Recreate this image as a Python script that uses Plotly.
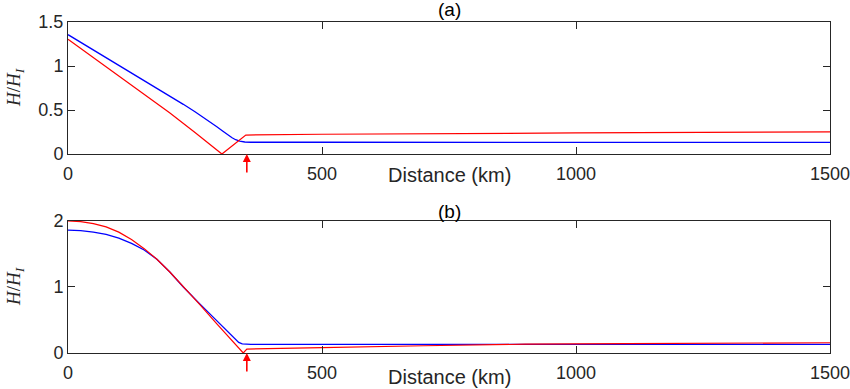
import plotly.graph_objects as go

# ---------------- data ----------------
x_ticks = [0, 500, 1000, 1500]
x_tick_labels = ["0", "500", "1000", "1500"]
ya_ticks = [0, 0.5, 1, 1.5]
ya_tick_labels = ["0", "0.5", "1", "1.5"]
yb_ticks = [0, 1, 2]
yb_tick_labels = ["0", "1", "2"]

# panel (a)
a_blue_x = [0, 50, 100, 150, 200, 227, 250, 275, 293, 305, 315, 323, 330, 338, 348, 360, 500, 1000, 1500]
a_blue_y = [1.356, 1.183, 1.008, 0.835, 0.66, 0.565, 0.48, 0.385, 0.31, 0.26, 0.215, 0.185, 0.163, 0.146, 0.137, 0.134, 0.134, 0.133, 0.133]
a_red_x = [0, 50, 100, 150, 200, 250, 303, 350, 500, 1000, 1500]
a_red_y = [1.303, 1.095, 0.89, 0.685, 0.47, 0.245, 0.0, 0.216, 0.225, 0.24, 0.253]

# panel (b)
b_blue_x = [0, 25, 50, 75, 100, 125, 150, 175, 200, 227, 260, 293, 315, 328, 336, 343, 360, 1500]
b_blue_y = [1.86, 1.852, 1.83, 1.795, 1.74, 1.66, 1.56, 1.42, 1.23, 1.00, 0.74, 0.49, 0.32, 0.21, 0.16, 0.137, 0.132, 0.132]
b_red_x = [0, 25, 50, 75, 100, 125, 150, 175, 200, 227, 260, 293, 320, 345, 352, 400, 500, 700, 900, 1100, 1300, 1500]
b_red_y = [2.00, 1.99, 1.96, 1.91, 1.83, 1.72, 1.58, 1.42, 1.23, 1.01, 0.73, 0.44, 0.21, 0.0, 0.06, 0.065, 0.08, 0.11, 0.133, 0.143, 0.15, 0.155]

arrow_x = 352
titles = ["(a)", "(b)"]
x_label = "Distance (km)"
y_label = "<i>H</i>/<i>H</i><sub><i>I</i></sub>"

BLUE = "#0000ff"
RED = "#ff0000"
AX = "#262626"
FONT = "Liberation Sans, Arial, Helvetica, sans-serif"

fig = go.Figure()
fig.add_trace(go.Scatter(x=a_blue_x, y=a_blue_y, mode="lines", line=dict(color=BLUE, width=1.3), xaxis="x", yaxis="y", showlegend=False))
fig.add_trace(go.Scatter(x=a_red_x, y=a_red_y, mode="lines", line=dict(color=RED, width=1.2), xaxis="x", yaxis="y", showlegend=False))
fig.add_trace(go.Scatter(x=b_blue_x, y=b_blue_y, mode="lines", line=dict(color=BLUE, width=1.3), xaxis="x2", yaxis="y2", showlegend=False))
fig.add_trace(go.Scatter(x=b_red_x, y=b_red_y, mode="lines", line=dict(color=RED, width=1.2), xaxis="x2", yaxis="y2", showlegend=False))

xcommon = dict(range=[0, 1500], tickvals=x_ticks, ticktext=x_tick_labels, ticks="inside", ticklen=7,
               tickcolor=AX, showline=True, linecolor=AX, linewidth=1, mirror="ticks", showgrid=False,
               zeroline=False, tickfont=dict(family=FONT, size=18, color=AX), ticklabelstandoff=3,
               automargin=False, ticklabeloverflow="allow")
ycommon = dict(ticks="inside", ticklen=7, tickcolor=AX, showline=True, linecolor=AX, linewidth=1,
               mirror="ticks", showgrid=False, zeroline=False, tickfont=dict(family=FONT, size=18, color=AX),
               automargin=False)

fig.update_layout(
    width=850, height=389,
    margin=dict(l=68, r=20, t=22, b=36),
    plot_bgcolor="white", paper_bgcolor="white",
    xaxis=dict(domain=[0, 1], anchor="y", **xcommon),
    yaxis=dict(domain=[0.601, 1.0], anchor="x", range=[0, 1.5], tickvals=ya_ticks, ticktext=ya_tick_labels, **ycommon),
    xaxis2=dict(domain=[0, 1], anchor="y2", **xcommon),
    yaxis2=dict(domain=[0.0, 0.399], anchor="x2", range=[0, 2], tickvals=yb_ticks, ticktext=yb_tick_labels, **ycommon),
)

annotations = []
for i, (xr, yr) in enumerate([("x", "y"), ("x2", "y2")]):
    annotations.append(dict(text=titles[i], xref=xr + " domain", yref=yr + " domain", x=0.5, y=1,
                            xanchor="center", yanchor="middle", yshift=13 if i == 0 else 9,
                            showarrow=False, font=dict(family=FONT, size=19, color="black")))
    annotations.append(dict(text=x_label, xref=xr + " domain", yref=yr + " domain", x=0.5, y=0,
                            xanchor="center", yanchor="middle", yshift=-21 if i == 0 else -24,
                            showarrow=False, font=dict(family=FONT, size=20, color=AX)))
    annotations.append(dict(text=y_label, xref="paper", yref=yr + " domain", x=0, y=0.5,
                            xanchor="center", yanchor="middle", xshift=-53, textangle=-90,
                            showarrow=False, font=dict(family="Liberation Serif, DejaVu Serif, serif", size=19, color=AX)))
    annotations.append(dict(text="", xref=xr, yref=yr, x=arrow_x, y=0, ax=0, ay=20,
                            showarrow=True, arrowhead=2, arrowsize=1, arrowwidth=1.6, arrowcolor=RED,
                            standoff=0))
fig.update_layout(annotations=annotations)

fig.write_html("out.html", config={"displayModeBar": False},
               post_script="document.body.style.margin='0';document.body.style.overflow='hidden';")
